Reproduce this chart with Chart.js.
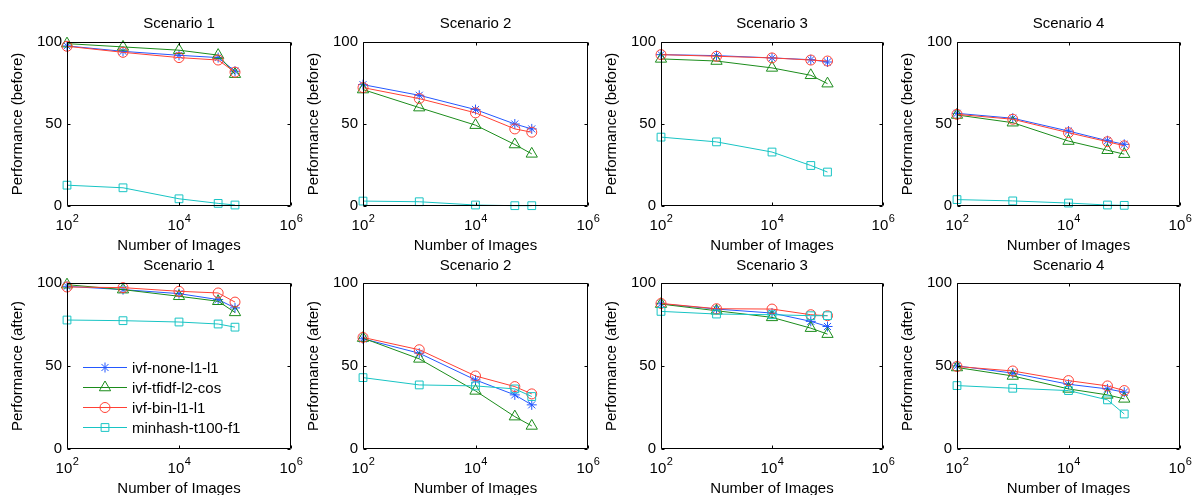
<!DOCTYPE html>
<html>
<head>
<meta charset="utf-8">
<script src="https://cdn.jsdelivr.net/npm/chart.js"></script>
<style>
  html, body { margin: 0; padding: 0; background: #fff; overflow: hidden; }
  #fig { position: relative; width: 1196px; height: 495px; }
  #fig canvas { position: absolute; }
</style>
</head>
<body>
<div id="fig"></div>
<script>
const imageCounts = [100, 1000, 10000, 50000, 100000];
const scenarioNames = ['Scenario 1', 'Scenario 2', 'Scenario 3', 'Scenario 4'];
const methodNames = ['ivf-none-l1-l1', 'ivf-tfidf-l2-cos', 'ivf-bin-l1-l1', 'minhash-t100-f1'];
const rowLabels = ['Performance (before)', 'Performance (after)'];
const xAxisLabel = 'Number of Images';
const xTicks = [100, 10000, 1000000];
const yTicks = [0, 50, 100];

// one row per scenario, values at each image count
const noneBefore = [
  [97.6, 94.3, 91.9, 90.5, 82.2],
  [74, 67.5, 58.8, 50, 47],
  [92.3, 91.7, 90.3, 89.2, 87.8],
  [56.5, 53.5, 45.7, 39.8, 37.6]
];
const tfidfBefore = [
  [99, 97, 95, 92, 80.4],
  [71, 60, 49.3, 37.5, 31.8],
  [89.7, 88.4, 84.2, 79.7, 74.6],
  [55.5, 50.8, 39.6, 34, 31.6]
];
const binBefore = [
  [97.4, 93.7, 90.5, 89, 81.6],
  [72.2, 65.5, 56.8, 47, 45],
  [92.3, 91.3, 90.3, 89, 88.4],
  [55.9, 52.9, 44.7, 39.2, 36.7]
];
const minhashBefore = [
  [12.7, 11.1, 4.4, 1.6, 0.6],
  [3, 2.6, 0.6, 0.2, 0.2],
  [42, 39.1, 32.9, 24.7, 20.7],
  [3.9, 3.1, 1.8, 0.6, 0.4]
];
const noneAfter = [
  [98, 96, 93.6, 90, 85],
  [66.4, 57.7, 41.6, 32.6, 26.6],
  [87.5, 84.3, 81.9, 76.9, 73.8],
  [50.1, 45.7, 39, 36.2, 34.2]
];
const tfidfAfter = [
  [99, 96, 92, 89, 82.3],
  [66.8, 54.3, 35, 19.5, 13.9],
  [87.3, 83.3, 79.3, 72.8, 69.2],
  [49.1, 44, 36.2, 32.6, 30.2]
];
const binAfter = [
  [97.6, 97.2, 95, 94, 88.5],
  [67.2, 59.8, 44, 37.6, 33.2],
  [87.7, 84.5, 84.3, 80.9, 80.3],
  [49.7, 47, 41.2, 38, 35.2]
];
const minhashAfter = [
  [77.7, 77.3, 76.5, 75.3, 73.4],
  [43, 38.6, 38, 36.2, 31.6],
  [82.9, 81.3, 80.9, 80.3, 80.3],
  [38.2, 36.6, 35.2, 29.6, 21.1]
];

const colors = ['#2458ff', '#1b8c1b', '#ff4034', '#18c4c4'];
const markers = ['star', 'triangle', 'circle', 'rect'];
const markerRadius = [5, 6.5, 5, 5.5];

// plot-area placement (page pixels)
const colLeft = [67, 363, 661, 957];
const colRight = [291, 588, 883, 1180];
const rowTop = [42, 283];
const rowBottom = [206, 449];
const titleGap = [18, 17];
const padL = 60, padR = 22, padT = 30, padB = 50;

const FONT = '"Liberation Sans", Arial, sans-serif';
Chart.defaults.font.family = FONT;
Chart.defaults.font.size = 15;
Chart.defaults.color = '#000';

const axesBox = {
  id: 'axesBox',
  afterDatasetsDraw(chart) {
    const { ctx, chartArea: a, scales } = chart;
    const l = Math.round(a.left) + 0.5, r = Math.round(a.right) - 0.5;
    const t = Math.round(a.top) + 0.5, b = Math.round(a.bottom) - 0.5;
    ctx.save();
    ctx.strokeStyle = '#000';
    ctx.lineWidth = 1;
    ctx.beginPath();
    ctx.rect(l, t, r - l, b - t);
    xTicks.forEach(v => {
      const x = Math.round(scales.x.getPixelForValue(v)) + 0.5;
      ctx.moveTo(x, b); ctx.lineTo(x, b - 3);
      ctx.moveTo(x, t); ctx.lineTo(x, t + 3);
    });
    yTicks.forEach(v => {
      const y = Math.round(scales.y.getPixelForValue(v)) + 0.5;
      ctx.moveTo(l, y); ctx.lineTo(l + 3, y);
      ctx.moveTo(r, y); ctx.lineTo(r - 3, y);
    });
    ctx.stroke();
    ctx.restore();
  }
};

// 10^n tick labels with a real raised exponent
const powerTicks = {
  id: 'powerTicks',
  afterDraw(chart) {
    const { ctx, chartArea: a, scales } = chart;
    ctx.save();
    ctx.fillStyle = '#000';
    ctx.textAlign = 'left';
    ctx.textBaseline = 'alphabetic';
    xTicks.forEach(v => {
      const base = '10', exp = String(Math.round(Math.log10(v)));
      ctx.font = '15px ' + FONT;
      const wb = ctx.measureText(base).width;
      ctx.font = '11px ' + FONT;
      const we = ctx.measureText(exp).width;
      const x0 = scales.x.getPixelForValue(v) - (wb + we) / 2;
      const y = a.bottom + 24;
      ctx.font = '15px ' + FONT;
      ctx.fillText(base, x0, y);
      ctx.font = '11px ' + FONT;
      ctx.fillText(exp, x0 + wb + 0.5, y - 8);
    });
    ctx.restore();
  }
};

// subplot title centred over the axes box
const panelTitle = {
  id: 'panelTitle',
  afterDraw(chart, args, opts) {
    const { ctx, chartArea: a } = chart;
    ctx.save();
    ctx.fillStyle = '#000';
    ctx.font = '15px ' + FONT;
    ctx.textAlign = 'center';
    ctx.textBaseline = 'middle';
    ctx.fillText(opts.text, (a.left + a.right) / 2, a.top - opts.gap);
    ctx.restore();
  }
};

const insideLegend = {
  id: 'insideLegend',
  afterDraw(chart, args, opts) {
    if (!opts.show) return;
    const { ctx, chartArea: a } = chart;
    ctx.save();
    chart.data.datasets.forEach((ds, i) => {
      const y = Math.round(a.top + 84 + i * 20) + 0.5;
      const x0 = a.left + 16, x1 = a.left + 60;
      ctx.strokeStyle = ds.borderColor;
      ctx.lineWidth = 1;
      ctx.beginPath();
      ctx.moveTo(x0, y);
      ctx.lineTo(x1, y);
      ctx.stroke();
      ctx.fillStyle = 'rgba(0,0,0,0)';
      Chart.helpers.drawPoint(ctx, { pointStyle: ds.pointStyle, radius: ds.pointRadius, borderWidth: 1 }, (x0 + x1) / 2, y);
      ctx.fillStyle = '#000';
      ctx.font = '15px ' + FONT;
      ctx.textBaseline = 'middle';
      ctx.textAlign = 'left';
      ctx.fillText(ds.label, a.left + 65, y + 1);
    });
    ctx.restore();
  }
};

const fig = document.getElementById('fig');
const panels = [
  [noneBefore, tfidfBefore, binBefore, minhashBefore],
  [noneAfter, tfidfAfter, binAfter, minhashAfter]
];

panels.forEach((series, row) => {
  scenarioNames.forEach((name, col) => {
    const w = colRight[col] - colLeft[col] + padL + padR;
    const h = rowBottom[row] - rowTop[row] + padT + padB;
    const canvas = document.createElement('canvas');
    canvas.width = w;
    canvas.height = h;
    canvas.style.left = (colLeft[col] - padL) + 'px';
    canvas.style.top = (rowTop[row] - padT) + 'px';
    canvas.style.width = w + 'px';
    canvas.style.height = h + 'px';
    fig.appendChild(canvas);

    const datasets = methodNames.map((label, m) => ({
      label,
      data: imageCounts.map((x, k) => ({ x, y: series[m][col][k] })),
      borderColor: colors[m],
      borderWidth: 1,
      pointStyle: markers[m],
      pointRadius: markerRadius[m],
      pointBorderWidth: 1,
      pointBackgroundColor: 'rgba(0,0,0,0)',
      pointBorderColor: colors[m],
      fill: false,
      tension: 0,
      clip: false,
      order: 3 - m
    }));

    new Chart(canvas.getContext('2d'), {
      type: 'line',
      data: { datasets },
      plugins: [axesBox, powerTicks, panelTitle, insideLegend],
      options: {
        responsive: false,
        animation: false,
        devicePixelRatio: 1,
        layout: { padding: { left: 0, right: padR, top: padT, bottom: 0 } },
        plugins: {
          legend: { display: false },
          tooltip: { enabled: false },
          title: { display: false },
          panelTitle: { text: name, gap: titleGap[row] },
          insideLegend: { show: row === 1 && col === 0 }
        },
        scales: {
          x: {
            type: 'logarithmic',
            min: 100,
            max: 1000000,
            grid: { display: false, drawTicks: false },
            border: { display: false },
            afterBuildTicks: s => { s.ticks = xTicks.map(v => ({ value: v })); },
            afterFit: s => { s.height = padB; },
            ticks: { display: false },
            title: { display: true, text: xAxisLabel, padding: { top: 0, bottom: 1 } }
          },
          y: {
            min: 0,
            max: 100,
            grid: { display: false, drawTicks: false },
            border: { display: false },
            afterBuildTicks: s => { s.ticks = yTicks.map(v => ({ value: v })); },
            afterFit: s => { s.width = padL; },
            ticks: { padding: 5 },
            title: { display: true, text: rowLabels[row], padding: { top: 2, bottom: 0 } }
          }
        }
      }
    });
  });
});
</script>
</body>
</html>
